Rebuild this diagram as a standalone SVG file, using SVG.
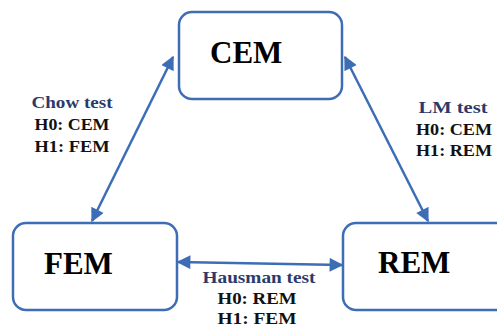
<svg xmlns="http://www.w3.org/2000/svg" width="497" height="330" viewBox="0 0 497 330">
<style>
.box{fill:#fff;stroke:#3d6db5;stroke-width:2.5}
.name{font-family:"Liberation Serif",serif;font-weight:bold;font-size:31px;fill:#000}
.lbl{font-family:"Liberation Serif",serif;font-weight:bold;font-size:17px;text-anchor:middle}
.t{fill:#2b3a6b}
.h{fill:#111}
.conn{stroke:#3d6db5;stroke-width:2.5;fill:none;marker-start:url(#a);marker-end:url(#a)}
</style>
<defs>
<marker id="a" viewBox="0 0 10 10" refX="9" refY="5" markerWidth="6" markerHeight="5.5" orient="auto-start-reverse" markerUnits="strokeWidth">
<path d="M0,0 L10,5 L0,10 Z" fill="#3d6db5"/>
</marker>
</defs>
<rect width="497" height="330" fill="#fff"/>
<g id="connectors">
<line class="conn" x1="173" y1="57" x2="92" y2="221"/>
<line class="conn" x1="345" y1="57" x2="428" y2="221"/>
<line class="conn" x1="178" y1="262" x2="342" y2="265"/>
</g>
<g id="CEM">
<rect class="box" x="179" y="12" width="163" height="87" rx="13"/>
<text class="name" x="210" y="63">CEM</text>
</g>
<g id="FEM">
<rect class="box" x="13" y="223" width="164" height="87" rx="13"/>
<text class="name" x="44" y="274">FEM</text>
</g>
<g id="REM">
<rect class="box" x="343" y="223" width="170" height="87" rx="13"/>
<text class="name" x="378" y="273">REM</text>
</g>
<g id="chow-label">
<text class="lbl t" x="72" y="108" textLength="81" lengthAdjust="spacingAndGlyphs">Chow test</text>
<text class="lbl h" x="72" y="130" textLength="75" lengthAdjust="spacingAndGlyphs">H0: CEM</text>
<text class="lbl h" x="72" y="152" textLength="75" lengthAdjust="spacingAndGlyphs">H1: FEM</text>
</g>
<g id="lm-label">
<text class="lbl t" x="453" y="113" textLength="69" lengthAdjust="spacingAndGlyphs">LM test</text>
<text class="lbl h" x="454" y="135" textLength="76" lengthAdjust="spacingAndGlyphs">H0: CEM</text>
<text class="lbl h" x="454" y="156" textLength="76" lengthAdjust="spacingAndGlyphs">H1: REM</text>
</g>
<g id="hausman-label">
<text class="lbl t" x="259" y="283" textLength="113" lengthAdjust="spacingAndGlyphs">Hausman test</text>
<text class="lbl h" x="257" y="304" textLength="79" lengthAdjust="spacingAndGlyphs">H0: REM</text>
<text class="lbl h" x="257" y="324" textLength="79" lengthAdjust="spacingAndGlyphs">H1: FEM</text>
</g>
</svg>
